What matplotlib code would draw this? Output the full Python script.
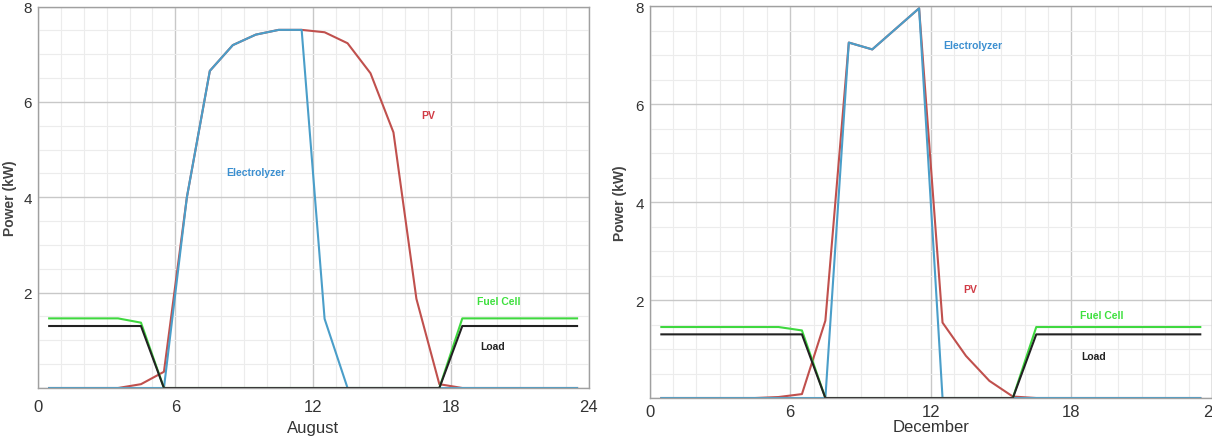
import matplotlib
matplotlib.use("Agg")
import matplotlib.pyplot as plt
from matplotlib.ticker import MultipleLocator

hours = [0.5, 1.5, 2.5, 3.5, 4.5, 5.5, 6.5, 7.5, 8.5, 9.5, 10.5, 11.5,
         12.5, 13.5, 14.5, 15.5, 16.5, 17.5, 18.5, 19.5, 20.5, 21.5, 22.5, 23.5]

aug_pv = [0, 0, 0, 0, 0.08, 0.34, 4.0, 6.65, 7.19, 7.41, 7.51, 7.51,
          7.46, 7.23, 6.6, 5.36, 1.87, 0.08, 0, 0, 0, 0, 0, 0]
aug_elec = [0, 0, 0, 0, 0, 0, 4.0, 6.65, 7.19, 7.41, 7.51, 7.51,
            1.45, 0, 0, 0, 0, 0, 0, 0, 0, 0, 0, 0]
aug_fc = [1.46, 1.46, 1.46, 1.46, 1.37, 0, 0, 0, 0, 0, 0, 0,
          0, 0, 0, 0, 0, 0, 1.46, 1.46, 1.46, 1.46, 1.46, 1.46]
aug_load = [1.3, 1.3, 1.3, 1.3, 1.3, 0, 0, 0, 0, 0, 0, 0,
            0, 0, 0, 0, 0, 0, 1.3, 1.3, 1.3, 1.3, 1.3, 1.3]

dec_pv = [0, 0, 0, 0, 0, 0.02, 0.08, 1.58, 7.26, 7.12, 7.54, 7.96,
          1.54, 0.86, 0.35, 0.03, 0, 0, 0, 0, 0, 0, 0, 0]
dec_elec = [0, 0, 0, 0, 0, 0, 0, 0, 7.26, 7.12, 7.54, 7.96,
            0, 0, 0, 0, 0, 0, 0, 0, 0, 0, 0, 0]
dec_fc = [1.45, 1.45, 1.45, 1.45, 1.45, 1.45, 1.38, 0, 0, 0, 0, 0,
          0, 0, 0, 0, 1.45, 1.45, 1.45, 1.45, 1.45, 1.45, 1.45, 1.45]
dec_load = [1.3, 1.3, 1.3, 1.3, 1.3, 1.3, 1.3, 0, 0, 0, 0, 0,
            0, 0, 0, 0, 1.3, 1.3, 1.3, 1.3, 1.3, 1.3, 1.3, 1.3]

x_ticks = [0, 6, 12, 18, 24]
y_ticks = [0, 2, 4, 6, 8]
y_ticklabels = ["", "2", "4", "6", "8"]

C_PV = "#c0504d"
C_EL = "#4a9ec9"
C_FC = "#3fd83f"
C_LD = "#222222"
TXT_EL = "#3b8fd0"
TXT_PV = "#d03a44"
TXT_FC = "#3ee03e"

fig = plt.figure(figsize=(12.12, 4.39), dpi=100)
axL = fig.add_axes([0.0311, 0.1139, 0.4545, 0.8690])
axR = fig.add_axes([0.5360, 0.0911, 0.4640, 0.8922])

sans = ["Liberation Sans", "DejaVu Sans"]

def style(ax, xlabel, xpad, lpad, ypad):
    ax.set_xlim(0, 24)
    ax.set_ylim(0, 8)
    ax.xaxis.set_minor_locator(MultipleLocator(1))
    ax.yaxis.set_minor_locator(MultipleLocator(0.5))
    ax.set_xticks(x_ticks)
    ax.set_xticklabels([str(t) for t in x_ticks], fontsize=12, family=sans, color="#333333")
    ax.set_yticks(y_ticks)
    ax.set_yticklabels(y_ticklabels, fontsize=11, family=sans, color="#333333")
    ax.grid(which="major", color="#c8c8c8", lw=1.0)
    ax.grid(which="minor", color="#ececec", lw=0.8)
    ax.set_axisbelow(True)
    ax.tick_params(which="both", length=0)
    ax.tick_params(axis="x", pad=xpad)
    ax.tick_params(axis="y", pad=4)
    for s in ax.spines.values():
        s.set_color("#a0a0a0")
        s.set_linewidth(1.0)
    ax.set_xlabel(xlabel, fontsize=12, family=sans, color="#333333", labelpad=lpad)
    ax.set_ylabel("Power (kW)", fontsize=10, family=sans,
                  fontweight="bold", color="#444444", labelpad=ypad)

def draw(ax, pv, el, fc, ld):
    ax.plot(hours, pv, color=C_PV, lw=1.5)
    ax.plot(hours, el, color=C_EL, lw=1.5)
    ax.plot(hours, fc, color=C_FC, lw=1.5)
    ax.plot(hours, ld, color=C_LD, lw=1.5)

draw(axL, aug_pv, aug_elec, aug_fc, aug_load)
draw(axR, dec_pv, dec_elec, dec_fc, dec_load)
style(axL, "August", 8, 4, 5)
style(axR, "December", 4, 0, 6)

lab = dict(fontsize=7.5, fontweight="bold", family=sans, ha="center", va="center")
axL.text(9.5, 4.52, "Electrolyzer", color=TXT_EL, **lab)
axL.text(17.0, 5.72, "PV", color=TXT_PV, **lab)
axL.text(20.1, 1.83, "Fuel Cell", color=TXT_FC, **lab)
axL.text(19.8, 0.89, "Load", color=C_LD, **lab)

axR.text(13.8, 7.21, "Electrolyzer", color=TXT_EL, **lab)
axR.text(13.7, 2.22, "PV", color=TXT_PV, **lab)
axR.text(19.3, 1.69, "Fuel Cell", color=TXT_FC, **lab)
axR.text(18.95, 0.86, "Load", color=C_LD, **lab)

fig.savefig("out.png", dpi=100)
